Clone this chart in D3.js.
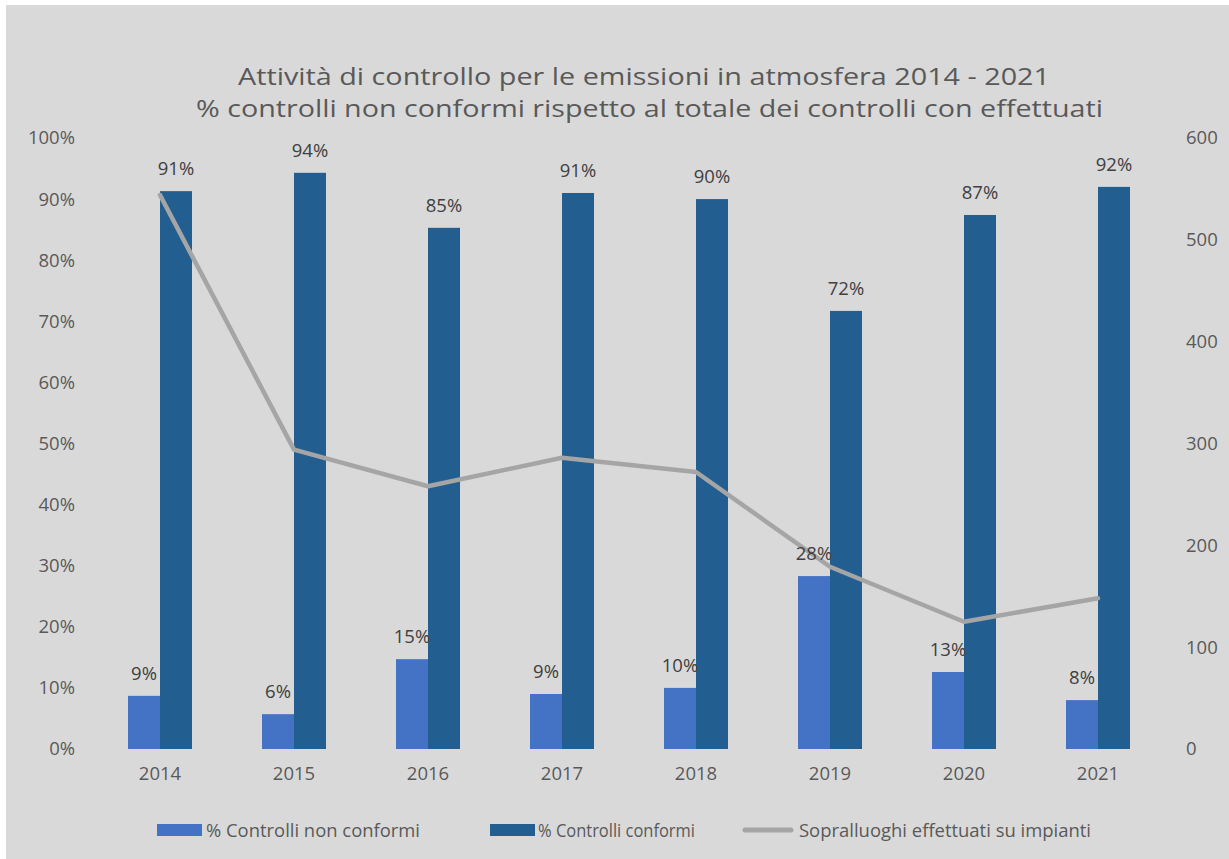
<!DOCTYPE html>
<html>
<head>
<meta charset="utf-8">
<script src="https://cdn.jsdelivr.net/npm/d3@7"></script>
<style>
  html, body { margin: 0; padding: 0; background: #ffffff; }
  svg { display: block; }
</style>
</head>
<body>
<svg id="chart" width="1229" height="859"></svg>
<script>
const years = ["2014", "2015", "2016", "2017", "2018", "2019", "2020", "2021"];
const nonConformi = [0.087, 0.057, 0.147, 0.09, 0.10, 0.283, 0.126, 0.08];
const conformi = [0.913, 0.943, 0.853, 0.91, 0.90, 0.717, 0.874, 0.92];
const nonConformiLabels = ["9%", "6%", "15%", "9%", "10%", "28%", "13%", "8%"];
const conformiLabels = ["91%", "94%", "85%", "91%", "90%", "72%", "87%", "92%"];
const sopralluoghi = [544, 294, 258, 286, 272, 179, 125, 148];
const leftTicks = [0, 0.1, 0.2, 0.3, 0.4, 0.5, 0.6, 0.7, 0.8, 0.9, 1.0];
const rightTicks = [0, 100, 200, 300, 400, 500, 600];
const titleLines = [
  "Attività di controllo per le emissioni in atmosfera 2014 - 2021",
  "% controlli non conformi rispetto al totale dei controlli con effettuati"
];
const seriesNames = ["% Controlli non conformi", "% Controlli conformi", "Sopralluoghi effettuati su impianti"];

const colLight = "#4472c4", colDark = "#235e91", colLine = "#a5a5a5";
const textCol = "#595959", labelCol = "#404040";
const font = "'Open Sans', 'Noto Sans', sans-serif";
const fs = 18.5;

const svg = d3.select("#chart");
svg.append("rect").attr("x", 6).attr("y", 5).attr("width", 1223).attr("height", 854).attr("fill", "#d9d9d9");

const x = d3.scaleBand().domain(years).range([93, 1165]).paddingInner(0).paddingOuter(0);
const groupW = x.bandwidth() * 0.4776;
const xSub = d3.scaleBand().domain(["non", "conf"]).range([0, groupW]);
const yL = d3.scaleLinear().domain([0, 1]).range([749, 138]);
const yR = d3.scaleLinear().domain([0, 600]).range([749, 138]);

// Title
const titleW = [[238, 1050], [196, 1103]];
const titleY = [85, 117];
titleLines.forEach((t, i) => {
  svg.append("text").attr("x", (titleW[i][0] + titleW[i][1]) / 2).attr("y", titleY[i])
    .attr("text-anchor", "middle").attr("font-family", font).attr("font-size", 23)
    .attr("fill", textCol).attr("textLength", titleW[i][1] - titleW[i][0])
    .attr("lengthAdjust", "spacingAndGlyphs").text(t);
});

// Axes (labels only)
const axL = svg.append("g").attr("transform", "translate(75,0)")
  .call(d3.axisLeft(yL).tickValues(leftTicks).tickFormat(d3.format(".0%")).tickSize(0).tickPadding(0));
const axR = svg.append("g").attr("transform", "translate(1186,0)")
  .call(d3.axisRight(yR).tickValues(rightTicks).tickSize(0).tickPadding(0));
const axX = svg.append("g").attr("transform", "translate(0,767)")
  .call(d3.axisBottom(x).tickSize(0).tickPadding(0));
[axL, axR, axX].forEach(a => {
  a.select(".domain").remove();
  a.selectAll("text").attr("font-family", font).attr("font-size", fs).attr("fill", textCol);
});

const center = d => x(d) + x.bandwidth() / 2;
const gx = d => center(d) - groupW / 2;

// Bars
svg.append("g").selectAll("rect").data(years).join("rect")
  .attr("x", d => gx(d) + xSub("non")).attr("width", xSub.bandwidth())
  .attr("y", (d, i) => yL(nonConformi[i])).attr("height", (d, i) => yL(0) - yL(nonConformi[i]))
  .attr("fill", colLight);
svg.append("g").selectAll("rect").data(years).join("rect")
  .attr("x", d => gx(d) + xSub("conf")).attr("width", xSub.bandwidth())
  .attr("y", (d, i) => yL(conformi[i])).attr("height", (d, i) => yL(0) - yL(conformi[i]))
  .attr("fill", colDark);

// Line
const line = d3.line().x(d => center(d[0])).y(d => yR(d[1]));
svg.append("path").datum(years.map((y, i) => [y, sopralluoghi[i]]))
  .attr("d", line).attr("fill", "none").attr("stroke", colLine)
  .attr("stroke-width", 4.5).attr("stroke-linejoin", "round").attr("stroke-linecap", "round");

// Data labels
svg.append("g").selectAll("text").data(years).join("text")
  .attr("x", d => gx(d) + xSub("non") + xSub.bandwidth() / 2)
  .attr("y", (d, i) => yL(nonConformi[i]) - 16)
  .attr("text-anchor", "middle").attr("font-family", font).attr("font-size", fs)
  .attr("fill", labelCol).text((d, i) => nonConformiLabels[i]);
svg.append("g").selectAll("text").data(years).join("text")
  .attr("x", d => gx(d) + xSub("conf") + xSub.bandwidth() / 2)
  .attr("y", (d, i) => yL(conformi[i]) - 16)
  .attr("text-anchor", "middle").attr("font-family", font).attr("font-size", fs)
  .attr("fill", labelCol).text((d, i) => conformiLabels[i]);

// Legend
const leg = svg.append("g");
const legItems = [
  { sx: 157, sw: 45, tx: 206, tw: 214, type: "rect", color: colLight },
  { sx: 490, sw: 45, tx: 538, tw: 157, type: "rect", color: colDark },
  { sx: 745, sw: 46, tx: 799, tw: 292, type: "line", color: colLine }
];
legItems.forEach((it, i) => {
  if (it.type === "rect") {
    leg.append("rect").attr("x", it.sx).attr("y", 824).attr("width", it.sw).attr("height", 12).attr("fill", it.color);
  } else {
    leg.append("line").attr("x1", it.sx).attr("x2", it.sx + it.sw).attr("y1", 830).attr("y2", 830)
      .attr("stroke", it.color).attr("stroke-width", 5).attr("stroke-linecap", "round");
  }
  leg.append("text").attr("x", it.tx).attr("y", 837).attr("font-family", font).attr("font-size", 19)
    .attr("fill", textCol).attr("textLength", it.tw).attr("lengthAdjust", "spacingAndGlyphs")
    .text(seriesNames[i]);
});
</script>
</body>
</html>
